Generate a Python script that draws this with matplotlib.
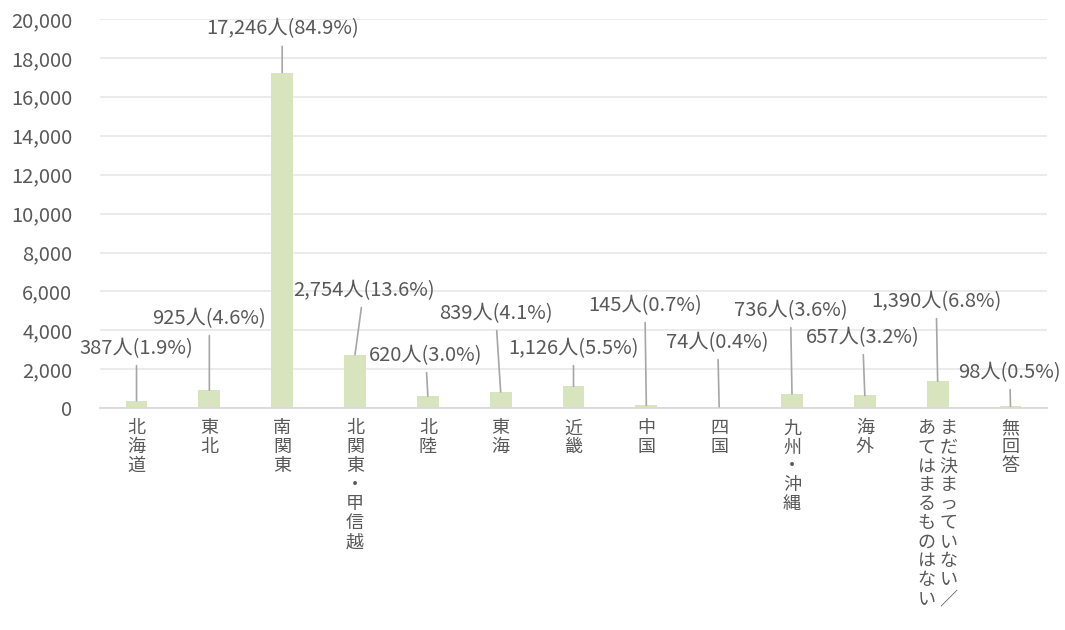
import matplotlib
matplotlib.use("Agg")
import matplotlib.pyplot as plt
from matplotlib.ticker import FuncFormatter, MultipleLocator

plt.rcParams['font.family'] = ['Noto Sans CJK JP', 'DejaVu Sans']

# データ
categories = ["北海道", "東北", "南関東", "北関東・甲信越", "北陸", "東海", "近畿",
              "中国", "四国", "九州・沖縄", "海外",
              "まだ決まっていない／あてはまるものはない", "無回答"]
counts = [387, 925, 17246, 2754, 620, 839, 1126, 145, 74, 736, 657, 1390, 98]
percents = [1.9, 4.6, 84.9, 13.6, 3.0, 4.1, 5.5, 0.7, 0.4, 3.6, 3.2, 6.8, 0.5]

# ラベル位置 (データ座標)
label_dx = [0, 0, 0, 0.12, -0.03, -0.07, 0, -0.02, -0.02, -0.02, -0.03, -0.02, -0.01]
label_y = [3085, 4627, 19486, 6067, 2725, 4884, 3085, 5296, 3393, 5039, 3650, 5501, 1851]

text_color = "#595959"
bar_color = "#d7e4bd"


def vertical_label(name):
    # 縦書き。「／」があれば右→左の二列
    if "／" in name:
        first, second = name.split("／")
        first = first + "／"
        n = max(len(first), len(second))
        first = first.ljust(n, "　")
        second = second.ljust(n, "　")
        return "\n".join(f"{b} {a}" for a, b in zip(first, second))
    return "\n".join(name)


fig = plt.figure(figsize=(10.65, 6.3), dpi=100)
ax = fig.add_axes([0.094, 0.352, 0.889, 0.618])

x = list(range(len(categories)))
ax.bar(x, counts, width=0.3, color=bar_color, zorder=2)

ax.set_ylim(0, 20000)
ax.set_xlim(-0.5, len(categories) - 0.5)
ax.yaxis.set_major_locator(MultipleLocator(2000))
ax.yaxis.set_major_formatter(FuncFormatter(lambda v, p: f"{v:,.0f}"))
ax.grid(axis="y", color="#e8e8e8", linewidth=1.2, zorder=0)
ax.set_axisbelow(True)

for s in ["top", "right", "left"]:
    ax.spines[s].set_visible(False)
ax.spines["bottom"].set_color("#d9d9d9")
ax.spines["bottom"].set_linewidth(1.3)

ax.tick_params(axis="both", length=0, colors=text_color)
ax.tick_params(axis="y", labelsize=14.5, pad=20)

ax.set_xticks(x)
ax.set_xticklabels([vertical_label(c) for c in categories], fontsize=13,
                   color=text_color, linespacing=1.07, va="top", ha="center")
ax.tick_params(axis="x", pad=8)

for i, (c, p) in enumerate(zip(counts, percents)):
    ax.annotate(f"{c:,}人({p:.1f}%)", xy=(i, c), xytext=(i + label_dx[i], label_y[i]),
                textcoords="data", ha="center", va="center", fontsize=14.5,
                color=text_color, annotation_clip=False,
                arrowprops=dict(arrowstyle="-", color="#a6a6a6", lw=1.2,
                                shrinkA=3, shrinkB=0))

fig.savefig("out.png", dpi=100)
